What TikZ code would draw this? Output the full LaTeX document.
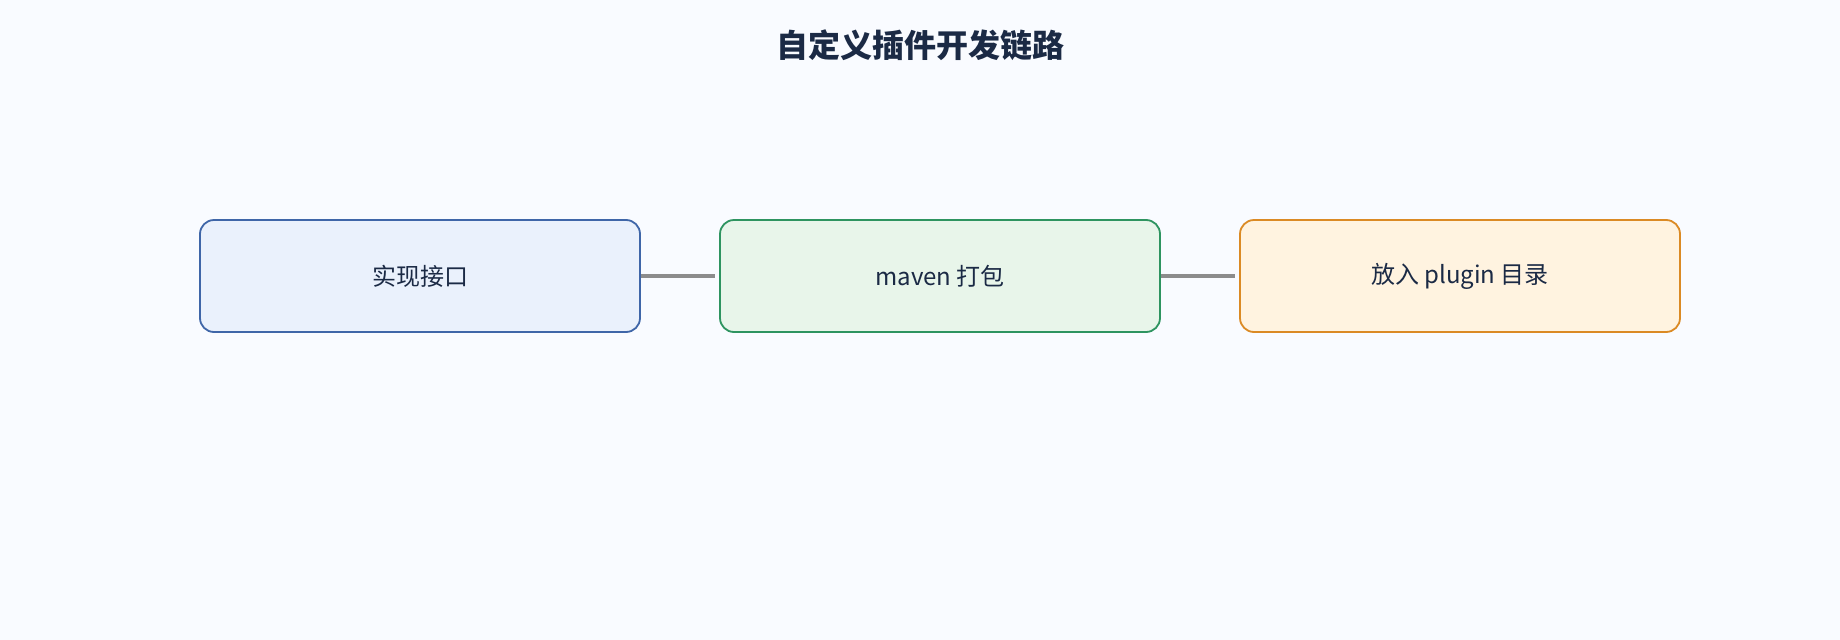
\documentclass[tikz,border=0pt]{standalone}
\usepackage{fontspec}
\setmainfont{Noto Sans CJK SC}
\definecolor{bg}{HTML}{F9FBFF}
\definecolor{txt}{HTML}{1B2A45}
\definecolor{fa}{HTML}{EAF1FC}\definecolor{sa}{HTML}{3F66A8}
\definecolor{fb}{HTML}{E8F5EA}\definecolor{sb}{HTML}{2E9460}
\definecolor{fc}{HTML}{FFF3E0}\definecolor{sc}{HTML}{DB8A24}
\begin{document}
\begin{tikzpicture}[x=1pt,y=-1pt,
 box/.style={draw,line width=1.8pt,rounded corners=14pt,minimum width=440pt,minimum height=112pt,inner sep=0pt,text=txt,font=\fontsize{24}{28}\selectfont},
 conn/.style={draw=gray!90,line width=3.5pt}]
\fill[bg] (0,0) rectangle (1840,640);
\useasboundingbox (0,0) rectangle (1840,640);
\node[font=\bfseries\fontsize{32}{38}\selectfont,text=txt] (title) at (920,45) {自定义插件开发链路};
\node[box,fill=fa,draw=sa] (a) at (420,276) {实现接口};
\node[box,fill=fb,draw=sb] (b) at (940,276) {maven 打包};
\node[box,fill=fc,draw=sc] (c) at (1460,276) {放入 plugin 目录};
\draw[conn,shorten >=4pt] (a) -- (b);
\draw[conn,shorten >=4pt] (b) -- (c);
\end{tikzpicture}
\end{document}
